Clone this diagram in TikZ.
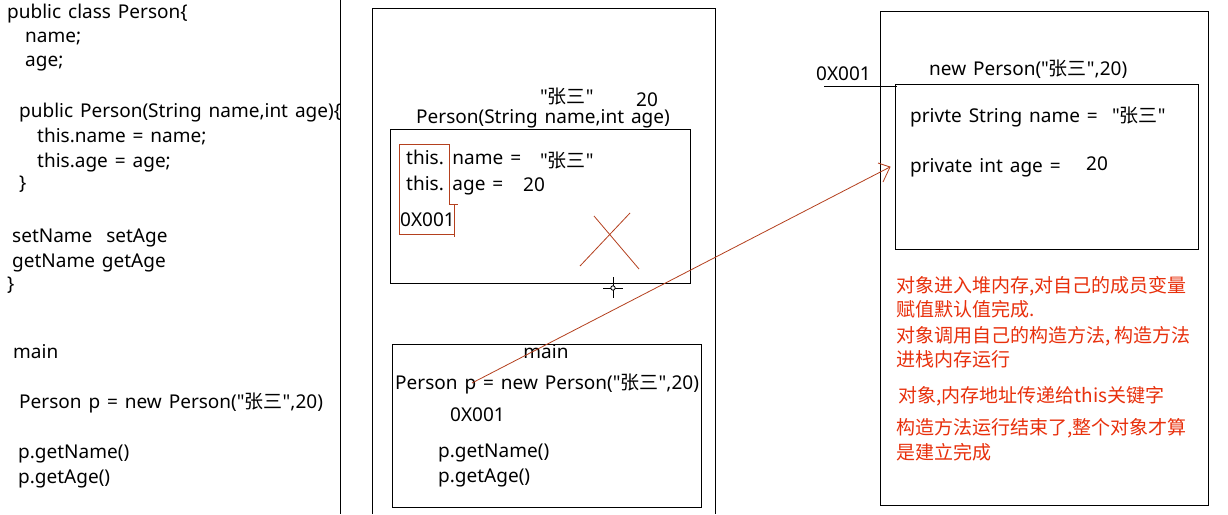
\documentclass[tikz,border=0pt]{standalone}
\usepackage{fontspec}
\newfontfamily\latin{Noto Sans}[WordSpace=1.4]
\newfontfamily\cjk{Noto Sans CJK SC}
\newcommand{\zsname}{{\cjk 张三}}
\begin{document}
\begin{tikzpicture}[x=1pt,y=-1pt,
  txt/.style={anchor=base west,inner sep=0pt,font=\fontsize{19}{22}\selectfont\latin},
  rtxt/.style={anchor=base west,inner sep=0pt,font=\fontsize{19}{22}\selectfont\cjk,text=redtext},
  box/.style={draw=black,line width=1pt},
  redline/.style={draw=darkred,line width=0.9pt}]
\definecolor{redtext}{HTML}{E8300C}
\definecolor{darkred}{HTML}{B4401E}
\useasboundingbox[fill=white] (0,0) rectangle (1228,514);
% left code
\node[txt] (l1) at (7,18) {public class Person\{};
\node[txt] (l2) at (25,42) {name;};
\node[txt] (l3) at (25,66) {age;};
\node[txt] (l4) at (19,117) {public Person(String name,int age)\{};
\node[txt] (l5) at (37,142) {this.name = name;};
\node[txt] (l6) at (37,167) {this.age = age;};
\node[txt] (l7) at (19,189) {\}};
\node[txt] (l8) at (12,242) {setName\ \ setAge};
\node[txt] (l9) at (12,267) {getName getAge};
\node[txt] (l10) at (7,290) {\}};
\node[txt] (l11) at (13,358) {main};
\node[txt] (l12) at (19,408) {Person p = new Person("\zsname",20)};
\node[txt] (l13) at (18,458) {p.getName()};
\node[txt] (l14) at (18,483) {p.getAge()};
% separator
\draw[box] (340,0) -- (340,514);
% stack box
\draw[box] (372,514) -- (372,8) -- (715,8) -- (715,514);
\node[txt] (s1) at (540,103) {"\zsname"};
\node[txt] (s2) at (636,106) {20};
\node[txt] (s3) at (416,123) {Person(String name,int age)};
\draw[box] (390,129) rectangle (690,283);
\node[txt] (c1) at (406,164) {this. name =};
\node[txt] (c2) at (540,167) {"\zsname"};
\node[txt] (c3) at (406,190) {this. age =};
\node[txt] (c4) at (523,191) {20};
\node[txt] (c5) at (400,226) {0X001};
% red bracket
\draw[redline] (449,144) -- (399,144) -- (399,234) -- (454,234);
\draw[redline] (449,144) -- (449,204) -- (458,204);
\draw[redline] (454,204) -- (454,237);
% red X
\draw[redline,line width=0.8pt] (594,216) -- (639,269);
\draw[redline,line width=0.8pt] (630,213) -- (580,266);
% cursor
\draw[black,line width=1pt] (613,277) -- (613,298) (603,288) -- (623,288);
\draw[black,fill=white,line width=0.8pt] (613,288) circle (2.2);
% main box
\draw[box] (392,344) rectangle (701,507);
\node[txt,anchor=base] (m0) at (546,358) {main};
\node[txt] (m1) at (395,389) {Person p = new Person("\zsname",20)};
\node[txt] (m2) at (450,421) {0X001};
\node[txt] (m3) at (438,457) {p.getName()};
\node[txt] (m4) at (438,482) {p.getAge()};
% heap
\draw[box] (880,11) rectangle (1208,505);
\node[txt] (h0) at (816,80) {0X001};
\coordinate (ul1) at (824,86);
\coordinate (ul2) at (897,86);
\draw[box] (ul1) -- (ul2);
\node[txt] (h1) at (929,75) {new Person("\zsname",20)};
\draw[box] (895,84) rectangle (1198,249);
\node[txt] (h2) at (910,122) {privte String name =};
\node[txt] (h3) at (1112,122) {"\zsname"};
\node[txt] (h4) at (910,172) {private int age =};
\node[txt] (h5) at (1086,170) {20};
% red notes
\node[rtxt] (r1) at (896,292) {对象进入堆内存,对自己的成员变量};
\node[rtxt] (r2) at (896,316) {赋值默认值完成.};
\node[rtxt] (r3) at (896,342) {对象调用自己的构造方法, 构造方法};
\node[rtxt] (r4) at (896,366) {进栈内存运行};
\node[rtxt] (r5) at (898,402) {对象,内存地址传递给this关键字};
\node[rtxt] (r6) at (896,434) {构造方法运行结束了,整个对象才算};
\node[rtxt] (r7) at (896,459) {是建立完成};
% arrow
\coordinate (a0) at (472,383);
\coordinate (a1) at (890,167);
\coordinate (b1) at (878,163);
\coordinate (b2) at (883,182);
\draw[redline,line width=0.8pt] (a0) -- (a1);
\draw[redline,line width=0.8pt] (b1) -- (a1) -- (b2);
\end{tikzpicture}
\end{document}
